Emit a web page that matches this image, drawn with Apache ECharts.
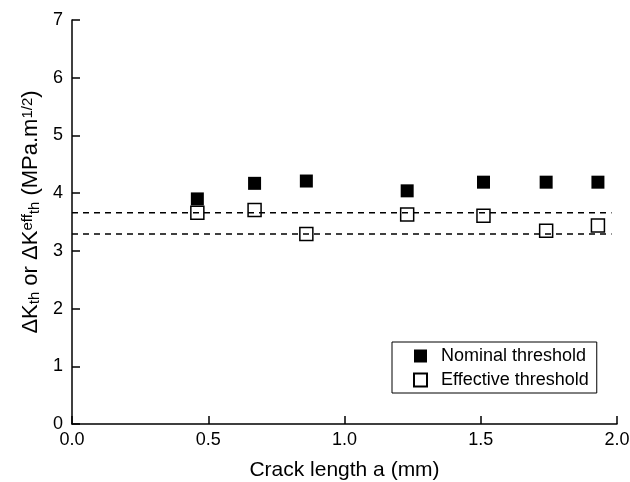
<!DOCTYPE html>
<html>
<head>
<meta charset="utf-8">
<script src="https://cdn.jsdelivr.net/npm/echarts@6/dist/echarts.min.js"></script>
<style>html,body{margin:0;padding:0;background:#fff}#c{width:630px;height:482px}</style>
</head>
<body>
<div id="c"></div>
<script>
const crackLength = [0.46, 0.67, 0.86, 1.23, 1.51, 1.74, 1.93];
const nominal = [3.90, 4.17, 4.21, 4.04, 4.19, 4.19, 4.19];
const effective = [3.66, 3.71, 3.29, 3.63, 3.61, 3.35, 3.44];
const upperLevel = 3.66;
const lowerLevel = 3.29;
const lineExtent = [0, 1.98];
const xTicks = [0, 0.5, 1.0, 1.5, 2.0];
const yTicks = [0, 1, 2, 3, 4, 5, 6, 7];

const FONT = "'Liberation Sans', Arial, sans-serif";
const chart = echarts.init(document.getElementById('c'), null, {renderer: 'canvas'});

const pairs = (xs, ys) => xs.map((x, i) => [x, ys[i]]);

chart.setOption({
  animation: false,
  backgroundColor: '#fff',
  grid: {left: 72, right: 13, top: 20, bottom: 58, containLabel: false, outerBoundsMode: 'none'},
  xAxis: {
    type: 'value', min: xTicks[0], max: xTicks[xTicks.length - 1], interval: 0.5,
    name: 'Crack length a (mm)', nameLocation: 'middle', nameGap: 36,
    nameTextStyle: {fontFamily: FONT, fontSize: 21, color: '#000'},
    axisLine: {show: true, lineStyle: {color: '#000', width: 1.5}},
    axisTick: {show: true, inside: true, length: 8, lineStyle: {color: '#000', width: 1.5}},
    axisLabel: {fontFamily: FONT, fontSize: 18, color: '#000', margin: 7, formatter: v => v.toFixed(1)},
    splitLine: {show: false}
  },
  yAxis: {
    type: 'value', min: yTicks[0], max: yTicks[yTicks.length - 1], interval: 1,
    axisLine: {show: true, lineStyle: {color: '#000', width: 1.5}},
    axisTick: {show: true, inside: true, length: 8, lineStyle: {color: '#000', width: 1.5}},
    axisLabel: {fontFamily: FONT, fontSize: 18, color: '#000', margin: 9},
    splitLine: {show: false}
  },
  legend: {
    data: ['Nominal threshold', 'Effective threshold'],
    orient: 'vertical', left: 392, top: 342,
    padding: [5, 8, 4, 21],
    itemWidth: 13, itemHeight: 13, itemGap: 6,
    borderColor: '#000', borderWidth: 1, borderRadius: 0,
    textStyle: {fontFamily: FONT, fontSize: 18, color: '#000', padding: [0, 0, 0, 9]}
  },
  graphic: [{
    type: 'text',
    x: 31, y: 212, rotation: Math.PI / 2,
    style: {
      text: 'ΔK{sub|th} or ΔK{sup|eff}{sub|th} (MPa.m{sup|1/2})',
      fontFamily: FONT, fontSize: 22, fill: '#000',
      align: 'center', verticalAlign: 'middle',
      rich: {
        sub: {fontFamily: FONT, fontSize: 15, verticalAlign: 'bottom', lineHeight: 15, fill: '#000'},
        sup: {fontFamily: FONT, fontSize: 15, verticalAlign: 'top', lineHeight: 15, fill: '#000'}
      }
    }
  }],
  series: [
    {
      type: 'line', name: 'upper', data: lineExtent.map(x => [x, upperLevel]),
      showSymbol: false, symbol: 'none', silent: true,
      lineStyle: {color: '#000', width: 1.5, type: [6, 5]}, z: 1
    },
    {
      type: 'line', name: 'lower', data: lineExtent.map(x => [x, lowerLevel]),
      showSymbol: false, symbol: 'none', silent: true,
      lineStyle: {color: '#000', width: 1.5, type: [6, 5]}, z: 1
    },
    {
      type: 'scatter', name: 'Nominal threshold', data: pairs(crackLength, nominal),
      symbol: 'rect', symbolSize: 13, itemStyle: {color: '#000', opacity: 1}, z: 3
    },
    {
      type: 'scatter', name: 'Effective threshold', data: pairs(crackLength, effective),
      symbol: 'rect', symbolSize: 13,
      itemStyle: {color: 'rgba(0,0,0,0)', borderColor: '#000', borderWidth: 1.5, opacity: 1}, z: 3
    }
  ]
});
</script>
</body>
</html>
